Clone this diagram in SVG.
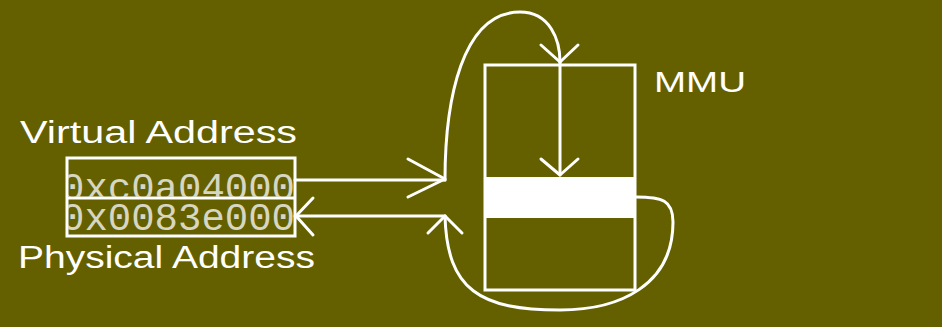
<svg xmlns="http://www.w3.org/2000/svg" width="942" height="327" viewBox="0 0 942 327">
<style>
.ln{fill:none;stroke:#ffffff;stroke-width:3;stroke-linecap:round;stroke-linejoin:round}
.lbl{font-family:"Comic Sans MS","Liberation Sans",sans-serif;fill:#ffffff}
.hex{font-family:"Liberation Mono",monospace;font-size:39px;fill:#d6d6c2}
</style>
<defs>
<clipPath id="c1"><rect x="68" y="160" width="226" height="37"/></clipPath>
<clipPath id="c2"><rect x="68" y="199" width="226" height="36"/></clipPath>
</defs>
<rect width="942" height="327" fill="#646000"/>
<g id="virtual-label"><text class="lbl" x="20" y="143" font-size="31" textLength="277" lengthAdjust="spacingAndGlyphs">Virtual Address</text></g>
<g id="physical-label"><text class="lbl" x="18" y="268" font-size="31" textLength="297" lengthAdjust="spacingAndGlyphs">Physical Address</text></g>
<g id="address-box">
<rect x="67" y="158" width="228" height="78" fill="none" stroke="#ffffff" stroke-width="3"/>
<line x1="67" y1="198" x2="295" y2="198" stroke="#ffffff" stroke-width="3"/>
<text class="hex" x="61" y="200" clip-path="url(#c1)" textLength="234" lengthAdjust="spacingAndGlyphs">0xc0a04000</text>
<text class="hex" x="61" y="230" clip-path="url(#c2)" textLength="234" lengthAdjust="spacingAndGlyphs">0x0083e000</text>
</g>
<g id="mmu">
<rect x="485" y="65" width="150" height="225" fill="none" stroke="#ffffff" stroke-width="3"/>
<rect x="485" y="177" width="150" height="41" fill="#ffffff"/>
<text class="lbl" x="654" y="92" font-size="30" textLength="92" lengthAdjust="spacingAndGlyphs">MMU</text>
</g>
<g id="connectors">
<path class="ln" d="M295,180 L445,180"/>
<path class="ln" d="M408,159 L445,179 L408,197"/>
<path class="ln" d="M445,180 C445,100 462,12 520,12 C550,12 560,40 560,62"/>
<path class="ln" d="M541,45 L560,62 L578,45"/>
<path class="ln" d="M560,62 L560,175"/>
<path class="ln" d="M541,159 L560,175 L578,159"/>
<path class="ln" d="M636,197 C662,197 673,200 673,222 C673,285 620,310 560,310 C480,310 447,290 445,216"/>
<path class="ln" d="M428,233 L445,216 L462,233"/>
<path class="ln" d="M445,216 L295,216"/>
<path class="ln" d="M313,198 L296,216 L313,235"/>
</g>
</svg>
